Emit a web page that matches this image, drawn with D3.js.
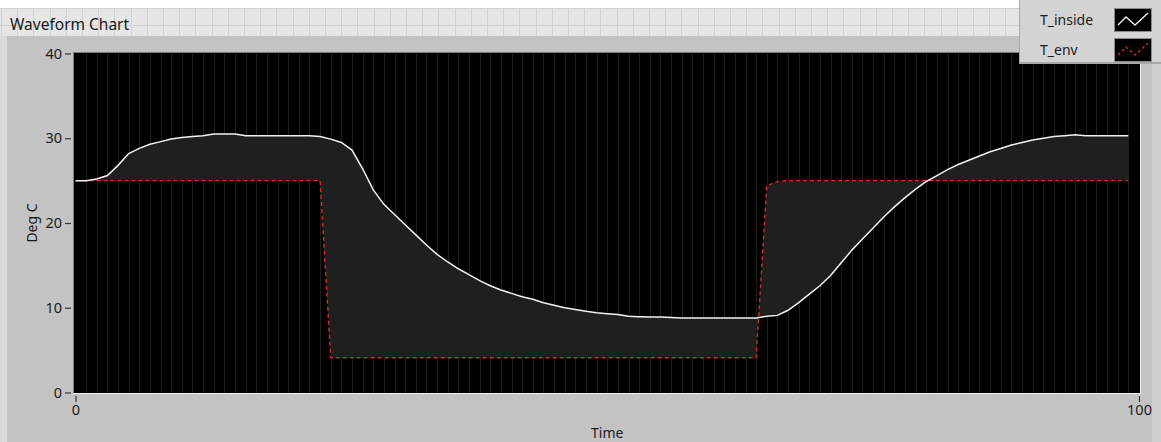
<!DOCTYPE html>
<html>
<head>
<meta charset="utf-8">
<script src="https://cdn.jsdelivr.net/npm/d3@7"></script>
<style>
  html, body { margin: 0; padding: 0; background: #ffffff; }
  svg { display: block; }
  text { font-family: "Noto Sans", "Open Sans", sans-serif; }
</style>
</head>
<body>
<svg id="chart" width="1161" height="442"></svg>
<script>
// ---------------- data ----------------
const chartTitle = "Waveform Chart";
const xLabel = "Time";
const yLabel = "Deg C";
const seriesNames = ["T_inside", "T_env"];

const tInside = [
  25.0, 25.0, 25.2, 25.6, 26.8, 28.2, 28.8, 29.3, 29.6, 29.9,
  30.1, 30.2, 30.3, 30.5, 30.5, 30.5, 30.3, 30.3, 30.3, 30.3,
  30.3, 30.3, 30.3, 30.2, 29.9, 29.5, 28.6, 26.4, 23.9, 22.2,
  21.0, 19.8, 18.6, 17.4, 16.3, 15.4, 14.6, 13.9, 13.2, 12.6,
  12.1, 11.7, 11.3, 11.0, 10.6, 10.3, 10.0, 9.8, 9.6, 9.4,
  9.3, 9.2, 9.0, 8.95, 8.9, 8.9, 8.85, 8.8, 8.8, 8.8,
  8.8, 8.8, 8.8, 8.8, 8.8, 9.0, 9.1, 9.7, 10.6, 11.6,
  12.6, 13.8, 15.3, 16.8, 18.1, 19.4, 20.7, 21.9, 23.0, 24.0,
  24.9, 25.6, 26.3, 26.9, 27.4, 27.9, 28.4, 28.8, 29.2, 29.5,
  29.8, 30.0, 30.2, 30.3, 30.4, 30.3, 30.3, 30.3, 30.3, 30.3
];
const tEnv = [
  25, 25, 25, 25, 25, 25, 25, 25, 25, 25,
  25, 25, 25, 25, 25, 25, 25, 25, 25, 25,
  25, 25, 25, 25, 4.1, 4.1, 4.1, 4.1, 4.1, 4.1,
  4.1, 4.1, 4.1, 4.1, 4.1, 4.1, 4.1, 4.1, 4.1, 4.1,
  4.1, 4.1, 4.1, 4.1, 4.1, 4.1, 4.1, 4.1, 4.1, 4.1,
  4.1, 4.1, 4.1, 4.1, 4.1, 4.1, 4.1, 4.1, 4.1, 4.1,
  4.1, 4.1, 4.1, 4.1, 4.1, 24.4, 24.9, 25, 25, 25,
  25, 25, 25, 25, 25, 25, 25, 25, 25, 25,
  25, 25, 25, 25, 25, 25, 25, 25, 25, 25,
  25, 25, 25, 25, 25, 25, 25, 25, 25, 25
];
const xDomain = [0, 100];
const yDomain = [0, 40];
const xTicks = [0, 100];
const yTicks = [0, 10, 20, 30, 40];

// ---------------- drawing ----------------
const W = 1161, H = 442;
const svg = d3.select("#chart");

const plot = { left: 73.5, right: 1140, top: 52, bottom: 393 };
const x = d3.scaleLinear().domain(xDomain).range([75.5, 1139]);
const y = d3.scaleLinear().domain(yDomain).range([392.5, 53.5]);

// background layers
svg.append("rect").attr("x", 0).attr("y", 0).attr("width", W).attr("height", H).attr("fill", "#ffffff");
// front panel grid strip
svg.append("rect").attr("x", 0).attr("y", 8).attr("width", W).attr("height", 34).attr("fill", "#e6e6e6");
const gridStrip = svg.append("g").attr("stroke", "#d2d2d2").attr("stroke-width", 1);
for (let gx = 1; gx < W; gx += 16.2) {
  gridStrip.append("line").attr("x1", Math.round(gx) + 0.5).attr("x2", Math.round(gx) + 0.5)
    .attr("y1", 8).attr("y2", 42);
}
[8.5, 25.5].forEach(gy => gridStrip.append("line").attr("x1", 0).attr("x2", W).attr("y1", gy).attr("y2", gy));

// chart panel
svg.append("rect").attr("x", 0).attr("y", 36).attr("width", W).attr("height", H - 36).attr("fill", "#d9d9d9");
svg.append("rect").attr("x", 7).attr("y", 36).attr("width", W - 7).attr("height", H - 36).attr("fill", "#c3c3c3");
svg.append("rect").attr("x", 1152).attr("y", 36).attr("width", 9).attr("height", H - 36).attr("fill", "#cfcfcf");

// title
svg.append("text").attr("x", 10).attr("y", 30).attr("font-size", 15.5).attr("fill", "#1a1a1a").text(chartTitle);

// plot area
svg.append("rect").attr("x", plot.left).attr("y", plot.top)
  .attr("width", plot.right - plot.left).attr("height", plot.bottom - plot.top).attr("fill", "#000000");

// vertical grid lines (one per unit of time)
const gridG = svg.append("g");
gridG.selectAll("line").data(d3.range(1, 100)).join("line")
  .attr("x1", d => Math.round(x(d)) + 0.5).attr("x2", d => Math.round(x(d)) + 0.5)
  .attr("y1", plot.top).attr("y2", plot.bottom)
  .attr("stroke", "#1e1e1e").attr("stroke-width", 1);

// fill between series
const idx = d3.range(tInside.length);
const area = d3.area()
  .x(i => x(i))
  .y0(i => y(tEnv[i]))
  .y1(i => y(tInside[i]));
svg.append("path").datum(idx).attr("d", area).attr("fill", "#1f1f1f");

// env line (red dashed)
const lineEnv = d3.line().x(i => x(i)).y(i => y(tEnv[i]));
svg.append("path").datum(idx).attr("d", lineEnv)
  .attr("fill", "none").attr("stroke", "#d22a2a").attr("stroke-width", 1.4)
  .attr("stroke-dasharray", "4,3");

// inside line (white)
const lineIn = d3.line().x(i => x(i)).y(i => y(tInside[i]));
svg.append("path").datum(idx).attr("d", lineIn)
  .attr("fill", "none").attr("stroke", "#f2f2f2").attr("stroke-width", 1.5);

// plot frame
svg.append("line").attr("x1", plot.left).attr("x2", plot.left).attr("y1", plot.top).attr("y2", plot.bottom)
  .attr("stroke", "#7a7a7a").attr("stroke-width", 1);
svg.append("line").attr("x1", plot.left).attr("x2", plot.right).attr("y1", plot.top + 0.5).attr("y2", plot.top + 0.5)
  .attr("stroke", "#7a7a7a").attr("stroke-width", 1);
svg.append("line").attr("x1", plot.left).attr("x2", plot.right).attr("y1", plot.bottom + 0.5).attr("y2", plot.bottom + 0.5)
  .attr("stroke", "#eeeeee").attr("stroke-width", 1.2);
svg.append("line").attr("x1", plot.right + 0.5).attr("x2", plot.right + 0.5).attr("y1", plot.top).attr("y2", plot.bottom + 1)
  .attr("stroke", "#eeeeee").attr("stroke-width", 1);

// y axis
const yAxis = d3.axisLeft(y).tickValues(yTicks).tickSize(6).tickPadding(3).tickFormat(d3.format("d"));
const yG = svg.append("g").attr("transform", `translate(${plot.left - 2.5},0)`).call(yAxis);
yG.select(".domain").remove();
yG.selectAll(".tick line").attr("stroke", "#333333").attr("stroke-width", 1.2);
yG.selectAll(".tick text").attr("font-size", 14.5).attr("fill", "#1a1a1a")
  .attr("font-family", "'Noto Sans', sans-serif");

// x axis
const xAxis = d3.axisBottom(x).tickValues(xTicks).tickSize(6).tickPadding(3).tickFormat(d3.format("d"));
const xG = svg.append("g").attr("transform", `translate(0,${plot.bottom + 3})`).call(xAxis);
xG.select(".domain").remove();
xG.selectAll(".tick line").attr("stroke", "#333333").attr("stroke-width", 1.2);
xG.selectAll(".tick text").attr("font-size", 14.5).attr("fill", "#1a1a1a")
  .attr("font-family", "'Noto Sans', sans-serif");

// axis labels
svg.append("text").attr("x", (x(0) + x(100)) / 2).attr("y", 438).attr("text-anchor", "middle")
  .attr("font-size", 14).attr("fill", "#1a1a1a").text(xLabel);
svg.append("text").attr("transform", `translate(37,${(y(0) + y(40)) / 2}) rotate(-90)`)
  .attr("text-anchor", "middle").attr("font-size", 14).attr("fill", "#1a1a1a").text(yLabel);

// legend
const lg = svg.append("g");
lg.append("rect").attr("x", 1019).attr("y", 0).attr("width", 142).attr("height", 64).attr("fill", "#a8a8a8");
lg.append("rect").attr("x", 1020).attr("y", 0).attr("width", 141).attr("height", 62).attr("fill", "#d4d4d4");
const legendRows = [
  { name: seriesNames[0], color: "#f2f2f2", dash: null, y0: 8 },
  { name: seriesNames[1], color: "#d22a2a", dash: "3,2.5", y0: 38 }
];
legendRows.forEach(r => {
  lg.append("text").attr("x", 1040).attr("y", r.y0 + 17).attr("font-size", 14).attr("fill", "#1a1a1a").text(r.name);
  lg.append("rect").attr("x", 1114.5).attr("y", r.y0 + 0.5).attr("width", 37).attr("height", 23)
    .attr("fill", "#000000").attr("stroke", "#8a8a8a").attr("stroke-width", 1);
  const pts = [[1118, r.y0 + 17], [1126, r.y0 + 9], [1135, r.y0 + 17], [1148, r.y0 + 5]];
  lg.append("path").attr("d", d3.line()(pts)).attr("fill", "none")
    .attr("stroke", r.color).attr("stroke-width", 1.3)
    .attr("stroke-dasharray", r.dash);
});
</script>
</body>
</html>
